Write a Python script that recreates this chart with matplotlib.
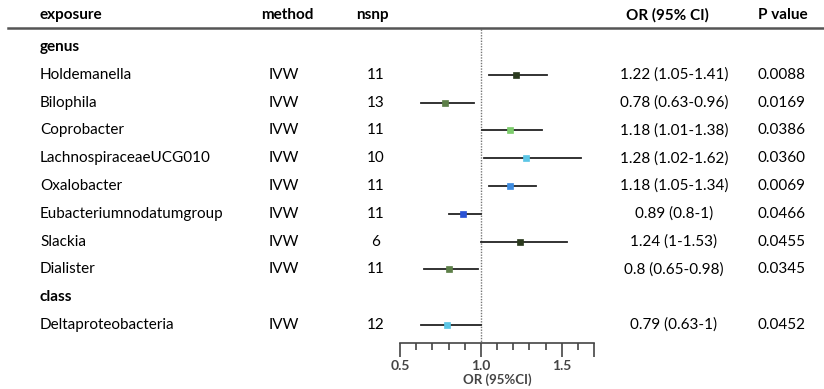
import matplotlib.pyplot as plt
from matplotlib.ticker import MultipleLocator

plt.rcParams['font.family'] = ['Lato', 'DejaVu Sans']

# table rows (None = group heading)
exposure = ['genus', 'Holdemanella', 'Bilophila', 'Coprobacter', 'LachnospiraceaeUCG010',
            'Oxalobacter', 'Eubacteriumnodatumgroup', 'Slackia', 'Dialister',
            'class', 'Deltaproteobacteria']
method = [None, 'IVW', 'IVW', 'IVW', 'IVW', 'IVW', 'IVW', 'IVW', 'IVW', None, 'IVW']
nsnp = [None, 11, 13, 11, 10, 11, 11, 6, 11, None, 12]
or_val = [None, 1.22, 0.78, 1.18, 1.28, 1.18, 0.89, 1.24, 0.80, None, 0.79]
lo = [None, 1.05, 0.63, 1.01, 1.02, 1.05, 0.80, 1.00, 0.65, None, 0.63]
hi = [None, 1.41, 0.96, 1.38, 1.62, 1.34, 1.00, 1.53, 0.98, None, 1.00]
or_text = [None, '1.22 (1.05-1.41)', '0.78 (0.63-0.96)', '1.18 (1.01-1.38)',
           '1.28 (1.02-1.62)', '1.18 (1.05-1.34)', '0.89 (0.8-1)', '1.24 (1-1.53)',
           '0.8 (0.65-0.98)', None, '0.79 (0.63-1)']
pval = [None, '0.0088', '0.0169', '0.0386', '0.0360', '0.0069', '0.0466', '0.0455',
        '0.0345', None, '0.0452']
colors = [None, '#2b3a1e', '#5d7f48', '#7ccc6b', '#5cc6e6', '#3d8be0', '#2a52d4',
          '#2b3a1e', '#5d7f48', None, '#5cc6e6']

W, H = 824, 389
fig = plt.figure(figsize=(W / 100, H / 100), dpi=100)

# forest panel: x 400..594 px, y 0..343 px
ax = fig.add_axes([400 / W, (H - 343) / H, 194 / W, 343 / H])
row_h = 27.8
top_px = 47  # first row centre
ax.set_ylim((343 - top_px) / row_h + 1, 1 - top_px / row_h)
ax.set_xlim(0.5, 1.7)

for i in range(len(exposure)):
    r = i + 1
    if or_val[i] is None:
        continue
    ax.plot([lo[i], hi[i]], [r, r], color='#222222', lw=1.3, zorder=2)
    ax.plot(or_val[i], r, marker='s', ms=5, color=colors[i], mec=colors[i], mew=0.5, zorder=3)

ax.plot([1, 1], [1 + (57 - top_px) / row_h - 1, ax.get_ylim()[0]], color='#777777',
        lw=1, ls=(0, (1, 1)), zorder=1)

for s in ['top', 'right', 'left']:
    ax.spines[s].set_visible(False)
ax.spines['bottom'].set_color('#444444')
ax.spines['bottom'].set_linewidth(1.2)
ax.set_yticks([])
ax.set_xticks([0.5, 1.0, 1.5, 1.7])
ax.set_xticklabels(['0.5', '1.0', '1.5', ''], fontweight='bold')
ax.xaxis.set_minor_locator(MultipleLocator(0.1))
ax.tick_params(axis='x', which='major', length=10, width=1.2, color='#444444',
               labelsize=10, labelcolor='#444444', pad=2)
ax.tick_params(axis='x', which='minor', length=5, width=1.2, color='#444444')
ax.set_xlabel('OR (95%CI)', fontsize=9.5, fontweight='bold', color='#444444', labelpad=1)
ax.patch.set_alpha(0)

# table text
def fy(px):
    return 1 - px / H

fs = 11
fig.text(40 / W, fy(15), 'exposure', fontsize=fs, fontweight='bold', va='center')
fig.text(287 / W, fy(15), 'method', fontsize=fs, fontweight='bold', va='center', ha='center')
fig.text(372 / W, fy(15), 'nsnp', fontsize=fs, fontweight='bold', va='center', ha='center')
fig.text(667 / W, fy(15), 'OR (95% CI)', fontsize=fs, fontweight='bold', va='center', ha='center')
fig.text(783 / W, fy(15), 'P value', fontsize=fs, fontweight='bold', va='center', ha='center')
fig.add_artist(plt.Line2D([8 / W, 1], [fy(28), fy(28)], color='#555555', lw=1.8))

for i in range(len(exposure)):
    ypx = top_px + i * row_h
    if method[i] is None:
        fig.text(40 / W, fy(ypx), exposure[i], fontsize=fs, fontweight='bold', va='center')
        continue
    fig.text(40 / W, fy(ypx), exposure[i], fontsize=fs, va='center')
    fig.text(284 / W, fy(ypx), method[i], fontsize=fs, va='center', ha='center')
    fig.text(376 / W, fy(ypx), str(nsnp[i]), fontsize=fs, va='center', ha='center')
    fig.text(674 / W, fy(ypx), or_text[i], fontsize=fs, va='center', ha='center')
    fig.text(782 / W, fy(ypx), pval[i], fontsize=fs, va='center', ha='center')

fig.savefig('out.png', dpi=100)
